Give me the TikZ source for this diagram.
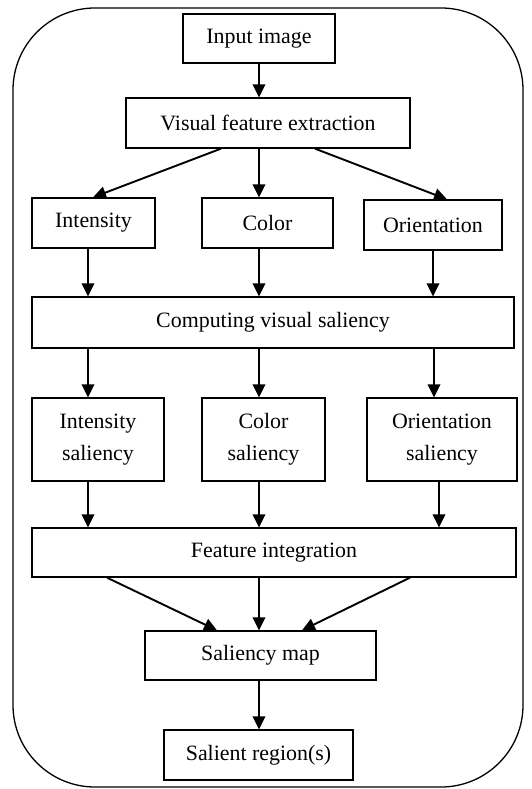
\documentclass[tikz,border=0pt]{standalone}
\usepackage{fontspec}
\setmainfont{Liberation Serif}
\usetikzlibrary{arrows.meta}

\tikzset{
  box/.style={draw, line width=1.3pt, inner sep=0pt, align=center,
              font=\fontsize{21.9}{32}\selectfont},
  arr/.style={-{Triangle[length=13pt,width=12.5pt]}, line width=1.9pt},
  frame/.style={draw, line width=1.3pt, rounded corners=82pt}
}

\begin{document}
\begin{tikzpicture}[x=1pt, y=-1pt]
  \useasboundingbox (0,0) rectangle (531,789);

  % enclosing rounded frame
  \draw[frame] (13,8) rectangle (523,787);

  % processing stages
  \node[box, minimum width=152, minimum height=49] (in)   at (259,38.5)  {Input image};
  \node[box, minimum width=284, minimum height=50] (vfe)  at (268,123)   {Visual feature extraction};
  \node[box, minimum width=123, minimum height=50] (int)  at (93.5,223)  {Intensity};
  \node[box, minimum width=131, minimum height=50] (col)  at (267.5,223) {Color};
  \node[box, minimum width=138, minimum height=50] (ori)  at (433,225)   {Orientation};
  \node[box, minimum width=482, minimum height=51] (cvs)  at (273,322.5) {Computing visual saliency};
  \node[box, minimum width=132, minimum height=83] (ints) at (98,439.5)  {Intensity\\saliency};
  \node[box, minimum width=123, minimum height=83] (cols) at (263.5,439.5){Color\\saliency};
  \node[box, minimum width=150, minimum height=83] (oris) at (442,439.5) {Orientation\\saliency};
  \node[box, minimum width=484, minimum height=49] (fi)   at (274,552.5) {Feature integration};
  \node[box, minimum width=231, minimum height=49] (sm)   at (260.5,655.5){Saliency map};
  \node[box, minimum width=189, minimum height=50] (sr)   at (258.5,755) {Salient region(s)};

  % horizontal positions of the connectors
  \coordinate (xL)  at (88,0);
  \coordinate (xM)  at (259,0);
  \coordinate (xR1) at (433,0);
  \coordinate (xR2) at (434,0);
  \coordinate (xR3) at (439,0);
  \coordinate (dA)  at (221,0);
  \coordinate (dB)  at (93,0);
  \coordinate (dC)  at (315,0);
  \coordinate (dD)  at (447,0);
  \coordinate (dE)  at (107,0);
  \coordinate (dF)  at (217,0);
  \coordinate (dG)  at (410,0);
  \coordinate (dH)  at (302,0);

  % connectors
  \draw[arr] (in.south -| xM) -- (vfe.north -| xM);
  \draw[arr] (vfe.south -| dA) -- (int.north -| dB);
  \draw[arr] (vfe.south -| xM) -- (col.north -| xM);
  \draw[arr] (vfe.south -| dC) -- (ori.north -| dD);

  \draw[arr] (int.south -| xL)  -- (cvs.north -| xL);
  \draw[arr] (col.south -| xM)  -- (cvs.north -| xM);
  \draw[arr] (ori.south -| xR1) -- (cvs.north -| xR1);

  \draw[arr] (cvs.south -| xL)  -- (ints.north -| xL);
  \draw[arr] (cvs.south -| xM)  -- (cols.north -| xM);
  \draw[arr] (cvs.south -| xR2) -- (oris.north -| xR2);

  \draw[arr] (ints.south -| xL)  -- (fi.north -| xL);
  \draw[arr] (cols.south -| xM)  -- (fi.north -| xM);
  \draw[arr] (oris.south -| xR3) -- (fi.north -| xR3);

  \draw[arr] (fi.south -| dE) -- (sm.north -| dF);
  \draw[arr] (fi.south -| xM) -- (sm.north -| xM);
  \draw[arr] (fi.south -| dG) -- (sm.north -| dH);

  \draw[arr] (sm.south -| xM) -- (sr.north -| xM);
\end{tikzpicture}
\end{document}
